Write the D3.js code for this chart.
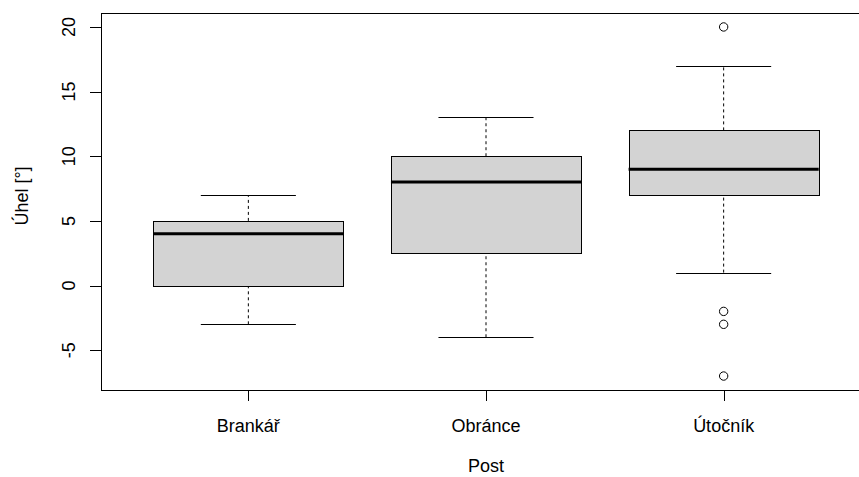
<!DOCTYPE html>
<html>
<head>
<meta charset="utf-8">
<script src="https://cdn.jsdelivr.net/npm/d3@7"></script>
<style>
  body { margin: 0; background: #fff; }
  text { font-family: "Liberation Sans", Arial, sans-serif; fill: #000; }
</style>
</head>
<body>
<div id="chart"></div>
<script>
// box statistics
const categories = ["Brankář", "Obránce", "Útočník"];
const whiskerLow = [-3, -4, 1];
const boxLow = [0, 2.5, 7];
const medians = [4, 8, 9];
const boxHigh = [5, 10, 12];
const whiskerHigh = [7, 13, 17];
const outliers = [[], [], [20, -2, -3, -7]];
const yTicks = [-5, 0, 5, 10, 15, 20];

(function() {
  const W = 859, H = 477;
  const plot = {left: 101, top: 13, right: 871, bottom: 390};

  // same extension as R: 4% on each side
  const x = d3.scaleLinear().domain([0.38, 3.62]).range([plot.left, plot.right]);
  const y = d3.scaleLinear().domain([-8.08, 21.08]).range([plot.bottom, plot.top]);

  const svg = d3.select("#chart").append("svg")
      .attr("width", W)
      .attr("height", H);

  const g = svg.append("g");

  categories.forEach(function(c, i) {
    const cx = x(i + 1);
    const grp = g.append("g");

    // dashed whiskers
    grp.append("line")
        .attr("x1", cx).attr("x2", cx)
        .attr("y1", y(whiskerLow[i])).attr("y2", y(boxLow[i]))
        .attr("stroke", "#000").attr("stroke-dasharray", "3,3");
    grp.append("line")
        .attr("x1", cx).attr("x2", cx)
        .attr("y1", y(boxHigh[i])).attr("y2", y(whiskerHigh[i]))
        .attr("stroke", "#000").attr("stroke-dasharray", "3,3");

    // caps
    [whiskerLow[i], whiskerHigh[i]].forEach(function(v) {
      grp.append("line")
          .attr("x1", x(i + 0.8)).attr("x2", x(i + 1.2))
          .attr("y1", Math.round(y(v)) + 0.5).attr("y2", Math.round(y(v)) + 0.5)
          .attr("stroke", "#000");
    });

    // box
    grp.append("rect")
        .attr("x", Math.round(x(i + 0.6)) + 0.5)
        .attr("y", Math.round(y(boxHigh[i])) + 0.5)
        .attr("width", Math.round(x(i + 1.4)) - Math.round(x(i + 0.6)))
        .attr("height", Math.round(y(boxLow[i])) - Math.round(y(boxHigh[i])))
        .attr("fill", "#d3d3d3")
        .attr("stroke", "#000");

    // median
    grp.append("line")
        .attr("x1", x(i + 0.6)).attr("x2", x(i + 1.4))
        .attr("y1", y(medians[i])).attr("y2", y(medians[i]))
        .attr("stroke", "#000").attr("stroke-width", 3);

    // outliers
    grp.selectAll("circle")
        .data(outliers[i])
        .join("circle")
        .attr("cx", cx)
        .attr("cy", d => y(d))
        .attr("r", 4.2)
        .attr("fill", "none")
        .attr("stroke", "#000");
  });

  // frame
  svg.append("rect")
      .attr("x", plot.left + 0.5).attr("y", plot.top + 0.5)
      .attr("width", plot.right - plot.left).attr("height", plot.bottom - plot.top)
      .attr("fill", "none").attr("stroke", "#000");

  // y axis ticks + rotated labels
  const ya = svg.append("g");
  yTicks.forEach(function(t) {
    const ty = Math.round(y(t)) + 0.5;
    ya.append("line")
        .attr("x1", plot.left - 11).attr("x2", plot.left)
        .attr("y1", ty).attr("y2", ty)
        .attr("stroke", "#000");
    ya.append("text")
        .attr("transform", "translate(75," + y(t) + ") rotate(-90)")
        .attr("text-anchor", "middle")
        .style("font-size", "18px")
        .text(t);
  });

  // x axis ticks + labels
  const xa = svg.append("g");
  categories.forEach(function(c, i) {
    const tx = Math.round(x(i + 1)) + 0.5;
    xa.append("line")
        .attr("x1", tx).attr("x2", tx)
        .attr("y1", plot.bottom).attr("y2", plot.bottom + 11)
        .attr("stroke", "#000");
    xa.append("text")
        .attr("x", x(i + 1))
        .attr("y", 432)
        .attr("text-anchor", "middle")
        .style("font-size", "18px")
        .text(c);
  });

  // axis titles
  svg.append("text")
      .attr("x", 486).attr("y", 472)
      .attr("text-anchor", "middle")
      .style("font-size", "18px")
      .text("Post");

  svg.append("text")
      .attr("transform", "translate(28,196) rotate(-90)")
      .attr("text-anchor", "middle")
      .style("font-size", "18px")
      .text("Úhel [°]");
})();
</script>
</body>
</html>
